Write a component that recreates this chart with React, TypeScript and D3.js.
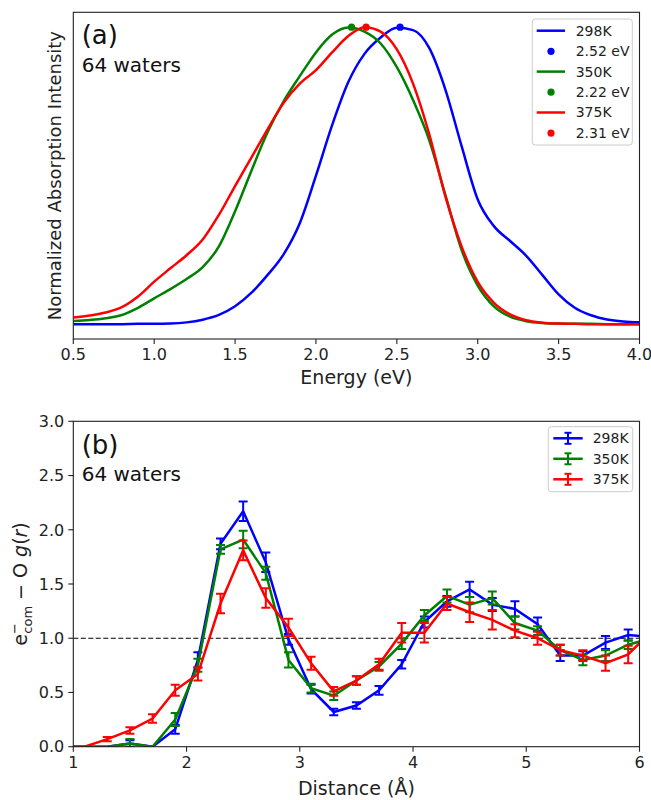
import React from "react";
import * as d3 from "d3";

// (a) absorption spectra, normalized
const energy = [0.5, 0.6, 0.7, 0.8, 0.9, 1.0, 1.1, 1.2, 1.3, 1.4, 1.5, 1.6, 1.7, 1.8, 1.9, 2.0, 2.1, 2.2, 2.3, 2.4, 2.5, 2.6, 2.7, 2.8, 2.9, 3.0, 3.1, 3.2, 3.3, 3.4, 3.5, 3.6, 3.7, 3.8, 3.9, 4.0];
const abs298 = [0, 0, 0, 0, 0.001, 0.001, 0.002, 0.006, 0.015, 0.031, 0.06, 0.105, 0.165, 0.235, 0.34, 0.5, 0.67, 0.815, 0.91, 0.965, 0.998, 0.99, 0.93, 0.79, 0.6, 0.42, 0.33, 0.28, 0.23, 0.165, 0.1, 0.055, 0.03, 0.016, 0.009, 0.006];
const abs350 = [0.011, 0.014, 0.02, 0.031, 0.055, 0.087, 0.118, 0.152, 0.192, 0.262, 0.38, 0.515, 0.645, 0.75, 0.835, 0.915, 0.975, 0.999, 0.985, 0.945, 0.865, 0.755, 0.62, 0.435, 0.25, 0.13, 0.06, 0.025, 0.01, 0.004, 0.002, 0.001, 0.001, 0, 0, 0];
const abs375 = [0.022, 0.029, 0.039, 0.057, 0.093, 0.143, 0.188, 0.232, 0.285, 0.368, 0.465, 0.56, 0.655, 0.745, 0.81, 0.855, 0.915, 0.97, 1.0, 0.985, 0.925, 0.81, 0.64, 0.43, 0.262, 0.142, 0.072, 0.033, 0.013, 0.005, 0.002, 0.001, 0, 0, 0, 0];
const peakEnergy = [2.52, 2.22, 2.31];
const peakLabels = ["2.52 eV", "2.22 eV", "2.31 eV"];
const energyTicks = [0.5, 1.0, 1.5, 2.0, 2.5, 3.0, 3.5, 4.0];

// (b) e- com - O radial distribution
const distance = [0.9, 1.1, 1.3, 1.5, 1.7, 1.9, 2.1, 2.3, 2.5, 2.7, 2.9, 3.1, 3.3, 3.5, 3.7, 3.9, 4.1, 4.3, 4.5, 4.7, 4.9, 5.1, 5.3, 5.5, 5.7, 5.9, 6.1];
const gr298 = [0, 0, 0, 0.03, 0, 0.16, 0.8, 1.87, 2.17, 1.7, 0.99, 0.53, 0.32, 0.38, 0.52, 0.76, 1.15, 1.34, 1.45, 1.31, 1.27, 1.13, 0.84, 0.84, 0.96, 1.03, 1.01];
const gr350 = [0, 0, 0, 0.03, 0, 0.25, 0.75, 1.82, 1.91, 1.6, 0.8, 0.54, 0.47, 0.61, 0.74, 0.95, 1.21, 1.39, 1.31, 1.37, 1.14, 1.07, 0.89, 0.8, 0.84, 0.94, 1.0];
const gr375 = [0, 0, 0.07, 0.15, 0.26, 0.52, 0.67, 1.32, 1.81, 1.37, 1.1, 0.77, 0.51, 0.61, 0.76, 1.05, 1.05, 1.32, 1.24, 1.17, 1.07, 1.0, 0.89, 0.84, 0.77, 0.85, 1.06];
const err298 = [0, 0, 0, 0.03, 0, 0.04, 0.07, 0.05, 0.09, 0.09, 0.05, 0.04, 0.03, 0.03, 0.04, 0.04, 0.05, 0.05, 0.07, 0.06, 0.07, 0.06, 0.05, 0.04, 0.06, 0.05, 0.05];
const err350 = [0, 0, 0, 0.04, 0, 0.06, 0.06, 0.04, 0.08, 0.06, 0.07, 0.04, 0.04, 0.04, 0.04, 0.05, 0.05, 0.06, 0.07, 0.06, 0.06, 0.04, 0.05, 0.05, 0.05, 0.04, 0.04];
const err375 = [0, 0, 0.02, 0.03, 0.04, 0.05, 0.06, 0.09, 0.09, 0.09, 0.08, 0.06, 0.04, 0.04, 0.05, 0.09, 0.09, 0.06, 0.09, 0.09, 0.06, 0.06, 0.05, 0.05, 0.07, 0.08, 0.06];
const distTicks = [1, 2, 3, 4, 5, 6];
const grTicks = [0, 0.5, 1.0, 1.5, 2.0, 2.5, 3.0];

const temps = ["298K", "350K", "375K"];
const colors = ["#0000ff", "#008000", "#ff0000"];
const FONT = "DejaVu Sans, sans-serif";

const App = () => {
  // panel geometry
  const L = 73.3, R = 639.5;
  const aTop = 12.3, aBot = 339;
  const bTop = 421.3, bBot = 746.7;

  const xA = d3.scaleLinear().domain([0.5, 4.0]).range([L, R]);
  const yA = d3.scaleLinear().domain([-0.05, 1.05]).range([aBot, aTop]);
  const xB = d3.scaleLinear().domain([1, 6]).range([L, R]);
  const yB = d3.scaleLinear().domain([0, 3]).range([bBot, bTop]);

  const spectra = [abs298, abs350, abs375];
  const grs = [gr298, gr350, gr375];
  const errs = [err298, err350, err375];

  const lineA = d3.line<number>()
    .x((_, i) => xA(energy[i]))
    .y(d => yA(d))
    .curve(d3.curveMonotoneX);

  const lineB = d3.line<number>()
    .x((_, i) => xB(distance[i]))
    .y(d => yB(d));

  const midX = (L + R) / 2;

  return (
    <svg width={651} height={800} style={{ position: "absolute", left: 0, top: 0, background: "#fff" }} fontFamily={FONT}>
      <defs>
        <clipPath id="clipA"><rect x={L} y={aTop} width={R - L} height={aBot - aTop} /></clipPath>
        <clipPath id="clipB"><rect x={L} y={bTop} width={R - L} height={bBot - bTop} /></clipPath>
      </defs>

      {/* ---------- panel (a) ---------- */}
      <g clipPath="url(#clipA)">
        {spectra.map((s, k) => (
          <g key={k}>
            <path d={lineA(s) || ""} fill="none" stroke={colors[k]} strokeWidth={2.5} />
            <circle cx={xA(peakEnergy[k])} cy={yA(1)} r={3.6} fill={colors[k]} />
          </g>
        ))}
      </g>
      <rect x={L} y={aTop} width={R - L} height={aBot - aTop} fill="none" stroke="#222" strokeWidth={1.1} />
      {energyTicks.map(t => (
        <g key={t} transform={`translate(${xA(t)},${aBot})`}>
          <line y2={5} stroke="#222" strokeWidth={1.1} />
          <text y={21} textAnchor="middle" fontSize={16} fill="#222">{t.toFixed(1)}</text>
        </g>
      ))}
      <text x={midX} y={384.3} textAnchor="middle" fontSize={19} fill="#222">Energy (eV)</text>
      <text transform={`translate(61,${(aTop + aBot) / 2}) rotate(-90)`} textAnchor="middle" fontSize={18} fill="#222">
        Normalized Absorption Intensity
      </text>
      <text x={81.7} y={44} fontSize={26} fill="#111">(a)</text>
      <text x={81.7} y={71.7} fontSize={20} fill="#111">64 waters</text>

      {/* legend (a) */}
      <g>
        <rect x={532.3} y={19} width={100} height={126} rx={3} fill="#fff" fillOpacity={0.8} stroke="#ccc" />
        {temps.map((t, k) => {
          const y1 = 30.7 + k * 40.9;
          const y2 = y1 + 20.6;
          return (
            <g key={t}>
              <line x1={536.7} x2={565} y1={y1} y2={y1} stroke={colors[k]} strokeWidth={2.5} />
              <text x={575.7} y={y1} dy="0.35em" fontSize={14} fill="#222">{t}</text>
              <circle cx={551} cy={y2} r={3.6} fill={colors[k]} />
              <text x={575.7} y={y2} dy="0.35em" fontSize={14} fill="#222">{peakLabels[k]}</text>
            </g>
          );
        })}
      </g>

      {/* ---------- panel (b) ---------- */}
      <g clipPath="url(#clipB)">
        <line x1={L} x2={R} y1={yB(1)} y2={yB(1)} stroke="#000" strokeWidth={1.2} strokeDasharray="5,2.5" />
        {grs.map((g, k) => (
          <g key={k}>
            <path d={lineB(g) || ""} fill="none" stroke={colors[k]} strokeWidth={2.5} />
            {g.map((v, i) => {
              const e = errs[k][i];
              if (e <= 0) return null;
              const cx = xB(distance[i]);
              const y0 = yB(v - e), y1 = yB(v + e);
              return (
                <g key={i} stroke={colors[k]} strokeWidth={2}>
                  <line x1={cx} x2={cx} y1={y0} y2={y1} />
                  <line x1={cx - 4.5} x2={cx + 4.5} y1={y0} y2={y0} />
                  <line x1={cx - 4.5} x2={cx + 4.5} y1={y1} y2={y1} />
                </g>
              );
            })}
          </g>
        ))}
      </g>
      <rect x={L} y={bTop} width={R - L} height={bBot - bTop} fill="none" stroke="#222" strokeWidth={1.1} />
      {distTicks.map(t => (
        <g key={t} transform={`translate(${xB(t)},${bBot})`}>
          <line y2={5} stroke="#222" strokeWidth={1.1} />
          <text y={21.5} textAnchor="middle" fontSize={16} fill="#222">{t}</text>
        </g>
      ))}
      {grTicks.map(t => (
        <g key={t} transform={`translate(${L},${yB(t)})`}>
          <line x2={-5} stroke="#222" strokeWidth={1.1} />
          <text x={-9} dy="0.36em" textAnchor="end" fontSize={16} fill="#222">{t.toFixed(1)}</text>
        </g>
      ))}
      <text x={midX} y={795} textAnchor="middle" fontSize={19} fill="#222">Distance (Å)</text>
      <text transform={`translate(27,${(bTop + bBot) / 2}) rotate(-90)`} textAnchor="middle" fontSize={19} fill="#222">
        e
        <tspan dy={-8} fontSize={13}>−</tspan>
        <tspan dx={-10.5} dy={13} fontSize={13}>com</tspan>
        <tspan dy={-5}> − O </tspan>
        <tspan fontStyle="italic">g</tspan>
        (<tspan fontStyle="italic">r</tspan>)
      </text>
      <text x={81.7} y={454} fontSize={26} fill="#111">(b)</text>
      <text x={81.7} y={480.7} fontSize={20} fill="#111">64 waters</text>

      {/* legend (b) */}
      <g>
        <rect x={548.3} y={426.7} width={84.4} height={65} rx={3} fill="#fff" fillOpacity={0.8} stroke="#ccc" />
        {temps.map((t, k) => {
          const y = 438.3 + k * 20.5;
          const cx = 568;
          return (
            <g key={t}>
              <g stroke={colors[k]}>
                <line x1={553.3} x2={582.7} y1={y} y2={y} strokeWidth={2.5} />
                <line x1={cx} x2={cx} y1={y - 5.5} y2={y + 5.5} strokeWidth={2} />
                <line x1={cx - 3.5} x2={cx + 3.5} y1={y - 5.5} y2={y - 5.5} strokeWidth={2} />
                <line x1={cx - 3.5} x2={cx + 3.5} y1={y + 5.5} y2={y + 5.5} strokeWidth={2} />
              </g>
              <text x={592.7} y={y} dy="0.35em" fontSize={14} fill="#222">{t}</text>
            </g>
          );
        })}
      </g>
    </svg>
  );
};

export default App;
